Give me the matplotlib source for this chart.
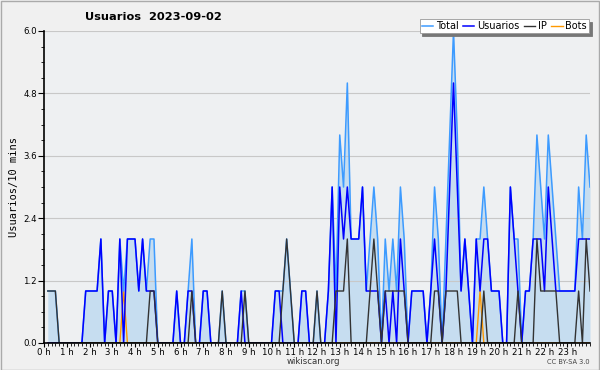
import matplotlib
matplotlib.use("Agg")
import matplotlib.pyplot as plt
from matplotlib.ticker import MultipleLocator, FixedLocator

# one value per 10 minutes, the point k is drawn at k*10 minutes (k = 1..144)
usuarios = [0, 0, 0, 0, 0, 0, 0, 0, 0, 0, 1, 1, 1, 1, 2, 0, 1, 1, 0, 2,
            0, 2, 2, 2, 1, 2, 1, 1, 1, 0, 0, 0, 0, 0, 1, 0, 0, 1, 1, 0,
            0, 1, 1, 0, 0, 0, 0, 0, 0, 0, 0, 1, 0, 0, 0, 0, 0, 0, 0, 0,
            1, 1, 0, 0, 0, 0, 0, 1, 1, 0, 0, 0, 0, 0, 1, 3, 0, 3, 2, 3,
            2, 2, 2, 3, 1, 1, 1, 1, 0, 1, 0, 1, 0, 2, 1, 0, 1, 1, 1, 1,
            0, 1, 2, 1, 0, 1, 3, 5, 3, 1, 2, 1, 0, 2, 1, 2, 2, 1, 1, 1,
            0, 0, 3, 2, 1, 0, 1, 1, 2, 2, 2, 1, 3, 2, 1, 1, 1, 1, 1, 1,
            2, 2, 2, 2]
ip = [1, 1, 1, 0, 0, 0, 0, 0, 0, 0, 0, 0, 0, 0, 0, 0, 0, 0, 0, 0,
      0, 0, 0, 0, 0, 0, 0, 1, 1, 0, 0, 0, 0, 0, 0, 0, 0, 0, 1, 0,
      0, 0, 0, 0, 0, 0, 1, 0, 0, 0, 0, 0, 1, 0, 0, 0, 0, 0, 0, 0,
      0, 0, 1, 2, 1, 0, 0, 0, 0, 0, 0, 1, 0, 0, 0, 0, 1, 1, 1, 2,
      0, 0, 0, 0, 0, 1, 2, 1, 0, 1, 1, 1, 1, 1, 1, 0, 0, 0, 0, 0,
      0, 0, 1, 1, 0, 1, 1, 1, 1, 0, 0, 0, 0, 0, 0, 1, 0, 0, 0, 0,
      0, 0, 0, 0, 1, 0, 0, 0, 0, 2, 1, 1, 1, 1, 1, 0, 0, 0, 0, 0,
      1, 0, 2, 1]
bots = [0] * 20 + [1] + [0] * 93 + [1] + [0] * 29
total = [1, 1, 1, 0, 0, 0, 0, 0, 0, 0, 1, 1, 1, 1, 2, 0, 1, 1, 0, 2,
         1, 2, 2, 2, 1, 2, 1, 2, 2, 0, 0, 0, 0, 0, 1, 0, 0, 1, 2, 0,
         0, 1, 1, 0, 0, 0, 1, 0, 0, 0, 0, 1, 1, 0, 0, 0, 0, 0, 0, 0,
         1, 1, 1, 2, 1, 0, 0, 1, 1, 0, 0, 1, 0, 0, 1, 3, 1, 4, 3, 5,
         2, 2, 2, 3, 1, 2, 3, 2, 0, 2, 1, 2, 1, 3, 2, 0, 1, 1, 1, 1,
         0, 1, 3, 2, 0, 2, 4, 6, 4, 1, 2, 1, 0, 2, 2, 3, 2, 1, 1, 1,
         0, 0, 3, 2, 2, 0, 1, 1, 2, 4, 3, 2, 4, 3, 2, 1, 1, 1, 1, 1,
         3, 2, 4, 3]
minutes = [10 * (k + 1) for k in range(len(total))]

hour_labels = ["%d h" % h for h in range(24)]
y_ticks = [0.0, 1.2, 2.4, 3.6, 4.8, 6.0]

bg = "#f0f0f0"
fig = plt.figure(figsize=(6.0, 3.7), dpi=100, facecolor=bg)
ax = fig.add_axes([44 / 600, 1 - 343 / 370, 546 / 600, 312 / 370])
ax.set_facecolor("#eef0f2")

ax.fill_between(minutes, total, 0, color="#c6ddf0", linewidth=0, zorder=1)
ax.plot(minutes, total, color="#3d9bff", lw=1.1, label="Total", zorder=3)
ax.plot(minutes, usuarios, color="#0000ff", lw=1.1, label="Usuarios", zorder=4)
ax.plot(minutes, ip, color="#333333", lw=1.0, label="IP", zorder=5)
ax.plot(minutes, bots, color="#ff9900", lw=1.0, label="Bots", zorder=2)

ax.set_xlim(0, 1440)
ax.set_ylim(0, 6.0)
ax.xaxis.set_major_locator(FixedLocator([60 * h for h in range(24)]))
ax.set_xticklabels(hour_labels)
ax.xaxis.set_minor_locator(MultipleLocator(10))
ax.set_yticks(y_ticks)
ax.set_yticklabels(["%.1f" % v for v in y_ticks])
ax.yaxis.set_minor_locator(MultipleLocator(0.3))
ax.tick_params(axis="x", which="major", length=3, width=0.8, labelsize=6.2, pad=0.5)
ax.tick_params(axis="x", which="minor", length=2.5, width=0.6)
ax.tick_params(axis="y", which="major", length=4, width=0.8, labelsize=6.2, pad=1)
ax.tick_params(axis="y", which="minor", length=2, width=0.6)
ax.grid(axis="y", color="#c8c8c8", lw=0.8, zorder=0)
for side in ["top", "right"]:
    ax.spines[side].set_visible(False)
for side in ["left", "bottom"]:
    ax.spines[side].set_linewidth(1.2)
    ax.spines[side].set_zorder(10)

ax.set_ylabel("Usuarios/10 mins", fontsize=7.5, family="DejaVu Sans Mono", labelpad=3)
fig.text(85 / 600, 1 - 17 / 370, "Usuarios  2023-09-02", fontsize=8.2,
         fontweight="bold", va="center")
fig.text(313 / 600, 1 - 362 / 370, "wikiscan.org", fontsize=6.2, ha="center",
         va="center", color="#333333")
fig.text(590 / 600, 1 - 362 / 370, "CC BY-SA 3.0", fontsize=4.8, ha="right",
         va="center", color="#444444")

leg = ax.legend(loc="upper right", bbox_to_anchor=(589 / 600, 1 - 19 / 370),
                bbox_transform=fig.transFigure, ncol=4, fontsize=7, frameon=True,
                fancybox=False, shadow={"color": "#777777", "alpha": 1},
                handlelength=1.2, handletextpad=0.3, columnspacing=0.4,
                borderpad=0.2, borderaxespad=0)
leg.get_frame().set_edgecolor("#999999")
leg.get_frame().set_facecolor("white")
leg.get_frame().set_linewidth(0.6)
leg.set_zorder(20)

fig.patches.append(plt.Rectangle((0.001, 0.001), 0.998, 0.997, transform=fig.transFigure,
                                 fill=False, edgecolor="#aaaaaa", lw=1))
fig.savefig("out.png", dpi=100, facecolor=bg)
